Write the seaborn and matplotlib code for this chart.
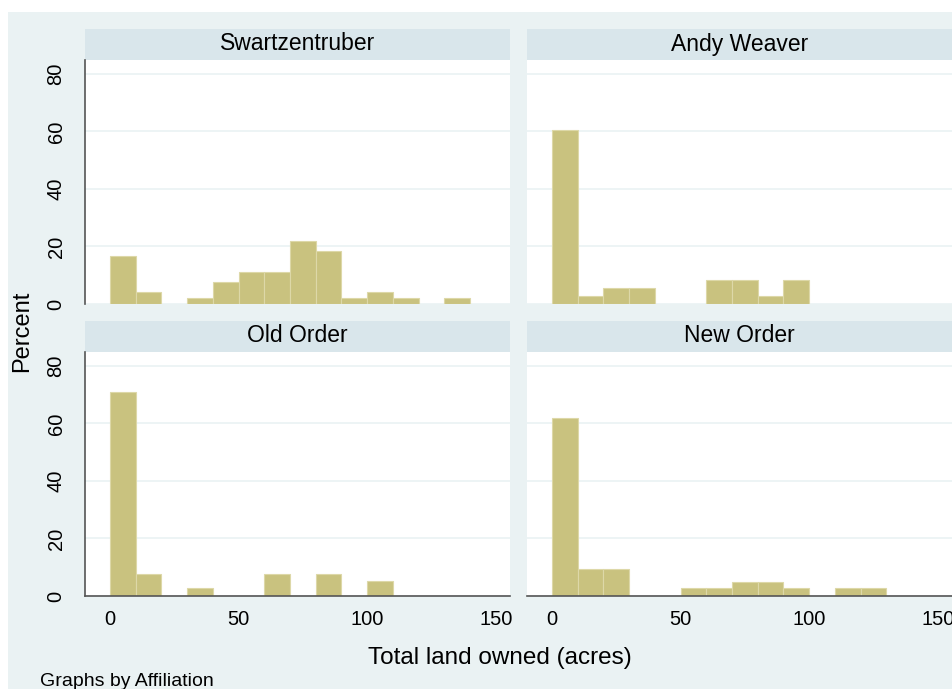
import numpy as np
import pandas as pd
import matplotlib.pyplot as plt
from matplotlib.patches import Rectangle
import seaborn as sns

# percent of households per 10-acre bin (0-10, 10-20, ... 140-150)
bin_edges = list(range(0, 160, 10))
bin_mids = [e + 5 for e in bin_edges[:-1]]
groups = ['Swartzentruber', 'Andy Weaver', 'Old Order', 'New Order']
swartzentruber = [16.7, 4.0, 0, 2.0, 7.8, 11.0, 11.0, 22.0, 18.5, 2.0, 4.0, 2.0, 0, 2.0, 0]
andy_weaver = [60.5, 2.9, 5.7, 5.7, 0, 0, 8.5, 8.5, 2.9, 8.5, 0, 0, 0, 0, 0]
old_order = [70.8, 7.5, 0, 2.8, 0, 0, 7.5, 0, 7.5, 0, 5.2, 0, 0, 0, 0]
new_order = [61.8, 9.5, 9.5, 0, 0, 2.7, 2.7, 4.7, 4.7, 2.7, 0, 2.7, 2.7, 0, 0]
yticks = [0, 20, 40, 60, 80]
xticks = [0, 50, 100, 150]

df = pd.DataFrame({
    'Affiliation': np.repeat(groups, len(bin_mids)),
    'acres': bin_mids * 4,
    'Percent': swartzentruber + andy_weaver + old_order + new_order,
})

sns.set_style('white')
plt.rcParams['font.family'] = ['Liberation Sans', 'DejaVu Sans']
plt.rcParams['text.color'] = 'black'
plt.rcParams['xtick.labelcolor'] = 'black'
plt.rcParams['ytick.labelcolor'] = 'black'

W, H = 953, 689
bg = '#EAF2F3'
head = '#D9E6EB'
bar = '#C9C27F'

fig = plt.figure(figsize=(W / 100, H / 100), dpi=100)
fig.patch.set_facecolor('white')
fig.patches.append(Rectangle((8 / W, 0), 1, 1 - 12 / H, transform=fig.transFigure,
                             facecolor=bg, edgecolor='none', zorder=-10))

lefts = [85, 527]
tops = [60, 352]
ax_w, ax_h = 425, 244

for i, g in enumerate(groups):
    row, col = divmod(i, 2)
    x0 = lefts[col]
    y0 = tops[row]
    ax = fig.add_axes([x0 / W, 1 - (y0 + ax_h) / H, ax_w / W, ax_h / H])
    # header strip
    fig.patches.append(Rectangle((x0 / W, 1 - y0 / H), ax_w / W, 31 / H, transform=fig.transFigure,
                                 facecolor=head, edgecolor='none', zorder=-5))
    fig.text((x0 + ax_w / 2) / W, 1 - (y0 - 16) / H, g, ha='center', va='center', fontsize=16.5)

    sub = df[df['Affiliation'] == g]
    sns.histplot(data=sub, x='acres', weights='Percent', bins=bin_edges, ax=ax,
                 color=bar, alpha=1, edgecolor='#DDD8A8', linewidth=0.8)
    for p in ax.patches:
        if p.get_height() == 0:
            p.set_visible(False)

    ax.set_xlim(-9.7, 155.5)
    ax.set_ylim(0, 84.8)
    ax.set_facecolor('white')
    ax.set_yticks(yticks)
    ax.set_xticks(xticks)
    for yv in yticks:
        ax.axhline(yv, color=bg, lw=1.2, zorder=0)
    ax.set_xlabel('')
    ax.set_ylabel('')
    for s in ['top', 'right']:
        ax.spines[s].set_visible(False)
    ax.spines['left'].set_color('#555555')
    ax.spines['bottom'].set_color('#555555')
    ax.spines['left'].set_linewidth(1.2)
    ax.spines['bottom'].set_linewidth(1.2)
    ax.tick_params(axis='both', direction='out', length=6, width=1.2, color='#666666',
                   labelsize=14.5, pad=4)
    if col == 0:
        ax.tick_params(axis='y', pad=8)
        plt.setp(ax.get_yticklabels(), rotation=90, va='center')
    else:
        ax.spines['left'].set_visible(False)
        ax.tick_params(axis='y', left=False, labelleft=False)
    if row == 0:
        ax.spines['bottom'].set_visible(False)
        ax.tick_params(axis='x', bottom=False, labelbottom=False)

fig.text(22 / W, 1 - 331 / H, 'Percent', rotation=90, ha='center', va='center', fontsize=17)
fig.text(500 / W, 1 - 658 / H, 'Total land owned (acres)', ha='center', va='center', fontsize=17.5)
fig.text(40 / W, 1 - 673 / H, 'Graphs by Affiliation', ha='left', va='top', fontsize=14)

fig.savefig('out.png', dpi=100, facecolor=fig.get_facecolor())
